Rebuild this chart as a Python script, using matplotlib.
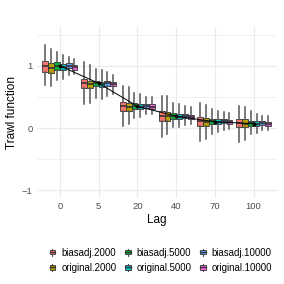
import matplotlib
matplotlib.use("Agg")
import matplotlib.pyplot as plt
from matplotlib.patches import Rectangle
from matplotlib.lines import Line2D
from matplotlib.legend_handler import HandlerBase
import numpy as np

plt.rcParams["font.family"] = ["Liberation Sans", "DejaVu Sans"]

# Daten
lags = ["0", "5", "20", "40", "70", "100"]
series = ["biasadj.2000", "original.2000", "biasadj.5000",
          "original.5000", "biasadj.10000", "original.10000"]
colors = ["#F8766D", "#B79F00", "#00BA38", "#00BFC4", "#619CFF", "#F564E3"]
true_trawl = [1.0, 0.72, 0.35, 0.19, 0.10, 0.07]

# rows = series, columns = lags
wlo = [[0.69, 0.39, 0.04, -0.14, -0.21, -0.22],
       [0.67, 0.40, 0.06, -0.10, -0.18, -0.20],
       [0.78, 0.48, 0.16, 0.01, -0.09, -0.10],
       [0.79, 0.47, 0.18, 0.01, -0.06, -0.08],
       [0.85, 0.52, 0.22, 0.05, -0.03, -0.04],
       [0.87, 0.55, 0.22, 0.06, -0.02, -0.03]]
q1 = [[0.90, 0.65, 0.28, 0.12, 0.03, 0.01],
      [0.89, 0.64, 0.28, 0.12, 0.03, 0.01],
      [0.94, 0.67, 0.31, 0.15, 0.06, 0.04],
      [0.93, 0.66, 0.30, 0.14, 0.06, 0.03],
      [0.96, 0.68, 0.32, 0.16, 0.08, 0.05],
      [0.94, 0.67, 0.31, 0.15, 0.07, 0.04]]
med = [[0.99, 0.72, 0.35, 0.20, 0.11, 0.08],
       [0.97, 0.70, 0.34, 0.19, 0.09, 0.07],
       [1.00, 0.72, 0.36, 0.20, 0.11, 0.08],
       [0.98, 0.70, 0.34, 0.18, 0.10, 0.07],
       [1.00, 0.72, 0.36, 0.19, 0.11, 0.08],
       [0.98, 0.70, 0.34, 0.18, 0.10, 0.07]]
q3 = [[1.08, 0.79, 0.42, 0.27, 0.17, 0.15],
      [1.05, 0.76, 0.40, 0.25, 0.16, 0.14],
      [1.06, 0.76, 0.40, 0.24, 0.15, 0.12],
      [1.03, 0.74, 0.38, 0.23, 0.14, 0.11],
      [1.04, 0.75, 0.39, 0.22, 0.14, 0.11],
      [1.02, 0.74, 0.38, 0.21, 0.13, 0.10]]
whi = [[1.33, 1.06, 0.67, 0.51, 0.40, 0.35],
       [1.27, 1.02, 0.66, 0.51, 0.37, 0.33],
       [1.22, 0.95, 0.57, 0.40, 0.30, 0.27],
       [1.17, 0.93, 0.55, 0.38, 0.28, 0.23],
       [1.14, 0.90, 0.50, 0.36, 0.26, 0.19],
       [1.11, 0.86, 0.50, 0.34, 0.24, 0.19]]

EDGE = "#333333"


class BoxKey(HandlerBase):
    """Kleines Boxplot-Symbol fuer die Legende."""

    def create_artists(self, legend, orig_handle, xdescent, ydescent,
                       width, height, fontsize, trans):
        cx = width / 2 - xdescent
        bw = width * 0.8
        bh = height * 0.6
        y0 = (height - bh) / 2 - ydescent
        whisk = Line2D([cx, cx], [-ydescent, height - ydescent],
                       color="#555555", linewidth=0.8, transform=trans)
        box = Rectangle((cx - bw / 2, y0), bw, bh,
                        facecolor=orig_handle.get_facecolor(),
                        edgecolor=EDGE, linewidth=0.6, transform=trans)
        mid = Line2D([cx - bw / 2, cx + bw / 2], [y0 + bh / 2] * 2,
                     color=EDGE, linewidth=1.0, transform=trans)
        return [whisk, box, mid]


fig = plt.figure(figsize=(2.84, 2.84), dpi=100)
ax = fig.add_axes([0.129, 0.303, 0.846, 0.602])

x = np.arange(1, len(lags) + 1)
dodge = 0.9 / len(series)

for i, (name, col) in enumerate(zip(series, colors)):
    stats = [{"whislo": wlo[i][j], "q1": q1[i][j], "med": med[i][j],
              "q3": q3[i][j], "whishi": whi[i][j], "fliers": []}
             for j in range(len(lags))]
    pos = x + (i - (len(series) - 1) / 2) * dodge
    ax.bxp(stats, positions=pos, widths=dodge, patch_artist=True,
           showcaps=False, manage_ticks=False,
           boxprops=dict(facecolor=col, edgecolor=EDGE, linewidth=0.6),
           medianprops=dict(color=EDGE, linewidth=1.2),
           whiskerprops=dict(color="#555555", linewidth=1.1))

ax.plot(x, true_trawl, color="black", linewidth=0.7, zorder=5)
ax.plot(x, true_trawl, "o", color="black", markersize=1.8, zorder=5)

# Achsen
ax.set_xlim(0.4, len(lags) + 0.6)
ax.set_ylim(-1.125, 1.625)
ax.set_xticks(x)
ax.set_xticklabels(lags)
ax.set_yticks([-1, 0, 1])
ax.set_yticks([-0.5, 0.5, 1.5], minor=True)
ax.grid(True, which="major", color="#EBEBEB", linewidth=0.9)
ax.grid(True, which="minor", axis="y", color="#EBEBEB", linewidth=0.5)
ax.set_axisbelow(True)
for s in ax.spines.values():
    s.set_visible(False)
ax.tick_params(which="both", length=0, labelsize=6.8, labelcolor="#4D4D4D", pad=3)
ax.set_xlabel("Lag", fontsize=8.5, labelpad=2)
ax.set_ylabel("Trawl function", fontsize=8.5, labelpad=3)

handles = [Rectangle((0, 0), 1, 1, facecolor=c, label=n)
           for n, c in zip(series, colors)]
fig.legend(handles=handles, handler_map={Rectangle: BoxKey()},
           loc="center", bbox_to_anchor=(0.565, 0.084),
           ncol=3, frameon=False, fontsize=6.9, handlelength=0.75,
           handleheight=0.8, handletextpad=0.55, columnspacing=0.8,
           labelspacing=0.55)

fig.savefig("out.png", dpi=100)
